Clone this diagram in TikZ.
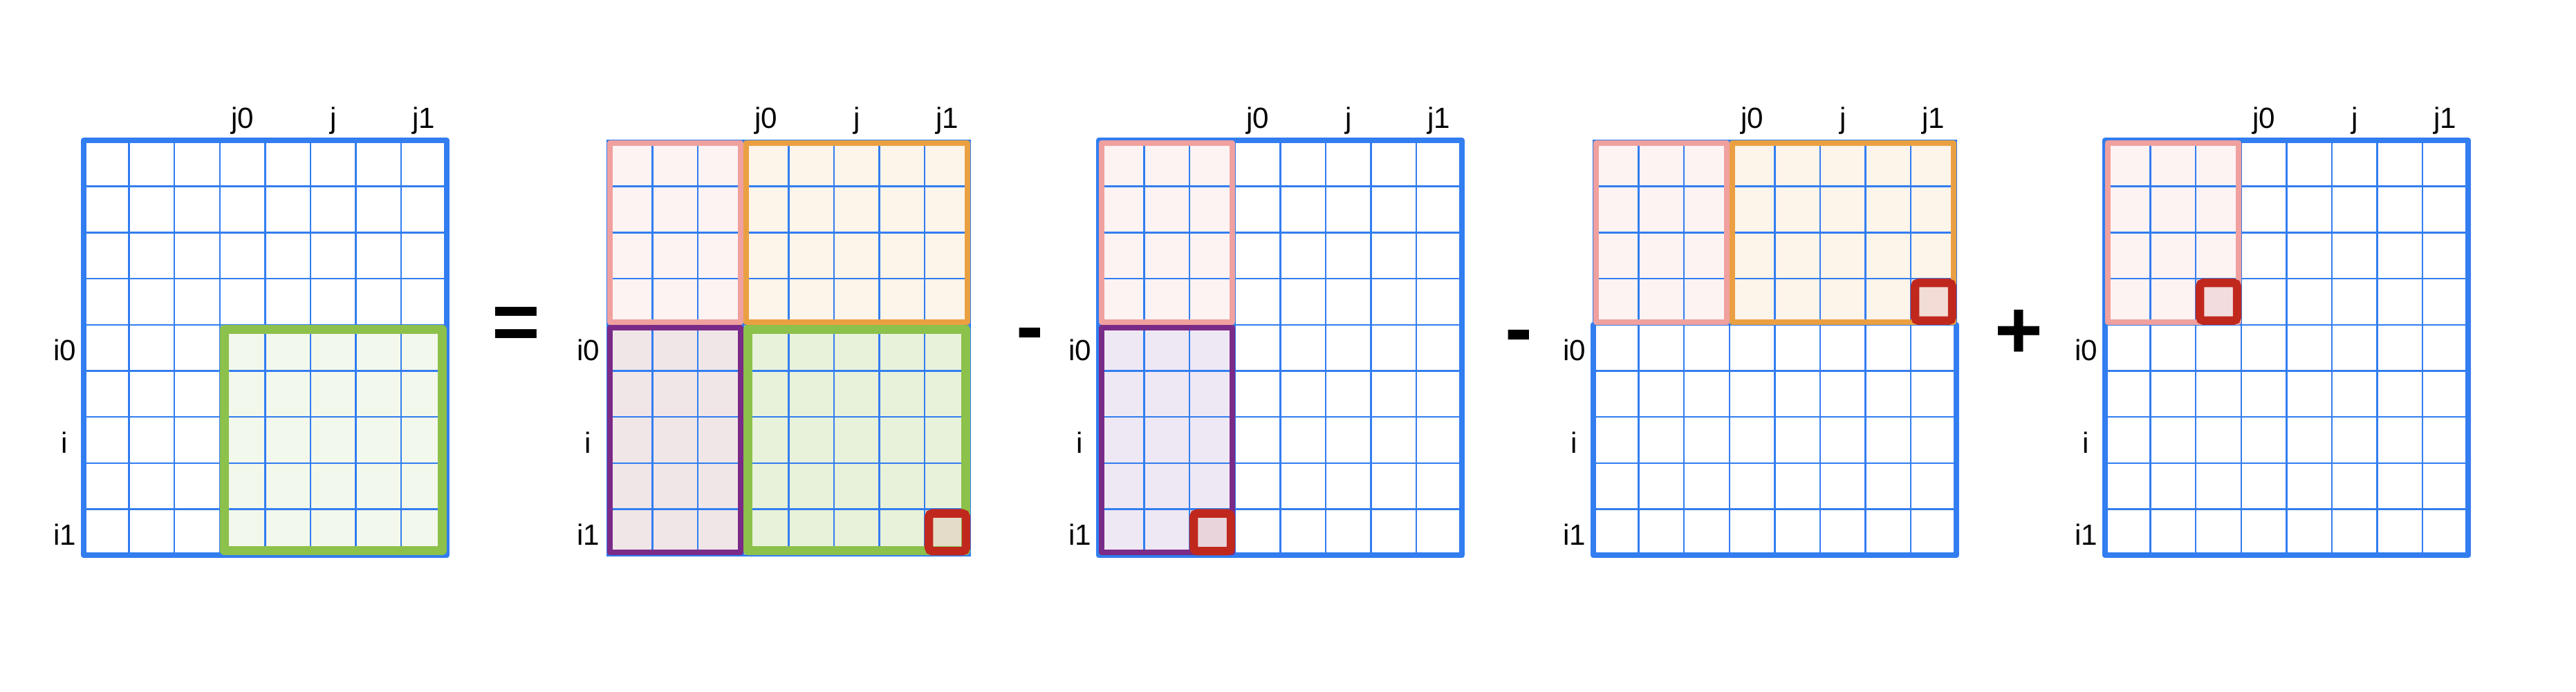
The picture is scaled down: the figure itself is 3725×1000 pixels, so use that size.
\documentclass[tikz,border=0pt]{standalone}
\usepackage{fontspec}
\setmainfont{Liberation Sans}
\usetikzlibrary{calc}

\definecolor{gridblue}{RGB}{50,125,240}
\definecolor{pinkline}{RGB}{240,160,158}
\definecolor{pinkfill}{RGB}{253,243,243}
\definecolor{orangeline}{RGB}{234,160,66}
\definecolor{orangefill}{RGB}{253,244,234}
\definecolor{purpleline}{RGB}{122,42,135}
\definecolor{purplefillA}{RGB}{240,230,232}
\definecolor{purplefillB}{RGB}{238,232,244}
\definecolor{greenline}{RGB}{140,193,75}
\definecolor{greenfillA}{RGB}{243,248,236}
\definecolor{greenfillB}{RGB}{232,242,218}
\definecolor{redline}{RGB}{192,40,30}
\definecolor{redfillA}{RGB}{228,220,200}
\definecolor{redfillB}{RGB}{232,212,218}
\definecolor{redfillC}{RGB}{243,220,214}
\definecolor{redfillD}{RGB}{242,220,222}

\tikzset{
  panel/.style={xscale=65.6,yscale=66.7},
  gridline/.style={gridblue,line width=0.7pt},
  outer/.style={gridblue,line width=2.3pt,line join=round,line cap=round},
  thinouter/.style={gridblue,line width=0.85pt},
  region/.style={line width=2.3pt,line join=round},
  greenbox/.style={greenline,line width=3.7pt,line join=round},
  cellbox/.style={redline,line width=3.5pt,rounded corners=1.5pt},
  lbl/.style={font=\fontsize{12}{14}\selectfont,inner sep=0pt,anchor=base},
  op/.style={font=\fontsize{34}{40}\selectfont\bfseries,inner sep=0pt,anchor=base}
}

% 8x9 grid of one matrix with its index labels
\newcommand{\matgrid}[1]{%
  \foreach \c in {1,...,7} \draw[gridline] (\c,0) -- (\c,9);
  \foreach \r in {1,...,8} \draw[gridline] (0,\r) -- (8,\r);
  \node[lbl] (j0#1) at (3.5,-0.27) {j0};
  \node[lbl] (j#1) at (5.5,-0.27) {j};
  \node[lbl] (j1#1) at (7.5,-0.27) {j1};
  \node[lbl] (i0#1) at (-0.42,4.78) {i0};
  \node[lbl] (i#1) at (-0.42,6.78) {i};
  \node[lbl] (i1#1) at (-0.42,8.78) {i1};
}

\begin{document}
\begin{tikzpicture}[x=0.1mm,y=-0.1mm]
  \path[use as bounding box] (0,0) rectangle (3725,1000);

  % first matrix
  \begin{scope}[shift={(121,203)},panel]
    \fill[greenfillA] (3,4) rectangle (8,9);
    \matgrid{a}
    \draw[outer] (0,0) rectangle (8,9);
    \draw[greenbox] (3.1,4.1) rectangle (7.9,8.9);
  \end{scope}

  \node[op] (eq) at (746,506) {=};

  % second matrix
  \begin{scope}[shift={(878,203)},panel]
    \fill[pinkfill] (0,0) rectangle (3,4);
    \fill[orangefill] (3,0) rectangle (8,4);
    \fill[purplefillA] (0,4) rectangle (3,9);
    \fill[greenfillB] (3,4) rectangle (8,9);
    \fill[redfillA] (7,8) rectangle (8,9);
    \matgrid{b}
    \draw[thinouter] (0,0) rectangle (8,9);
    \draw[region,pinkline] (0.06,0.06) rectangle (2.94,3.94);
    \draw[region,orangeline] (3.06,0.06) rectangle (7.94,3.94);
    \draw[region,purpleline] (0.06,4.06) rectangle (2.94,8.94);
    \draw[greenbox] (3.1,4.1) rectangle (7.9,8.9);
    \draw[cellbox] (7.09,8.09) rectangle (7.91,8.91);
  \end{scope}

  \node[op] (minA) at (1489,512) {-};

  % third matrix
  \begin{scope}[shift={(1589,203)},panel]
    \fill[pinkfill] (0,0) rectangle (3,4);
    \fill[purplefillB] (0,4) rectangle (3,9);
    \fill[redfillB] (2,8) rectangle (3,9);
    \matgrid{c}
    \draw[outer] (0,0) rectangle (8,9);
    \draw[region,pinkline] (0.06,0.06) rectangle (2.94,3.94);
    \draw[region,purpleline] (0.06,4.06) rectangle (2.94,8.94);
    \draw[cellbox] (2.09,8.09) rectangle (2.91,8.91);
  \end{scope}

  \node[op] (minB) at (2196,515) {-};

  % fourth matrix
  \begin{scope}[shift={(2304,203)},panel]
    \fill[pinkfill] (0,0) rectangle (3,4);
    \fill[orangefill] (3,0) rectangle (8,4);
    \fill[redfillC] (7,3) rectangle (8,4);
    \matgrid{d}
    \draw[thinouter] (0,0) rectangle (8,9);
    \draw[outer] (0,4) -- (0,9) -- (8,9) -- (8,4);
    \draw[region,pinkline] (0.06,0.06) rectangle (2.94,3.94);
    \draw[region,orangeline] (3.06,0.06) rectangle (7.94,3.94);
    \draw[cellbox] (7.09,3.09) rectangle (7.91,3.91);
  \end{scope}

  \node[op] (plus) at (2919,518) {+};

  % fifth matrix
  \begin{scope}[shift={(3044,203)},panel]
    \fill[pinkfill] (0,0) rectangle (3,4);
    \fill[redfillD] (2,3) rectangle (3,4);
    \matgrid{e}
    \draw[outer] (0,0) rectangle (8,9);
    \draw[region,pinkline] (0.06,0.06) rectangle (2.94,3.94);
    \draw[cellbox] (2.09,3.09) rectangle (2.91,3.91);
  \end{scope}
\end{tikzpicture}
\end{document}
